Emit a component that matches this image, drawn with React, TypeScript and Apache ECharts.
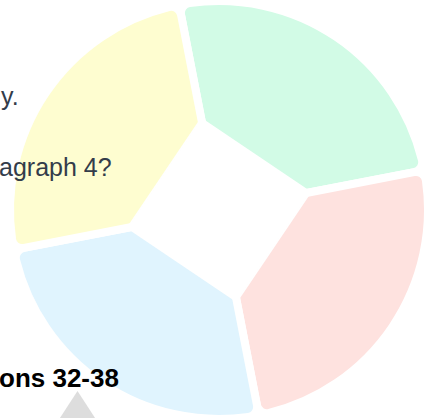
import React, { useEffect, useRef } from "react";
import * as echarts from "echarts";

const categories = ["Green", "Red", "Blue", "Yellow"];
const values = [25, 25, 25, 25];
const colors = ["#d2fbe6", "#fee2df", "#e0f4fe", "#fefdd0"];
const textLines = ["y.", "agraph 4?", "ons 32-38"];

const CX = 219;
const CY = 210;
const START = 101;

export default function App() {
  const ref = useRef<HTMLDivElement>(null);
  useEffect(() => {
    if (!ref.current) return;
    const chart = echarts.init(ref.current, undefined, { renderer: "svg" });
    const total = values.reduce((a, b) => a + b, 0);
    let acc = 0;
    const holePts: number[][] = values.map((v) => {
      const ang = ((START - (acc / total) * 360) * Math.PI) / 180;
      acc += v;
      const d = 93;
      return [CX + d * Math.cos(ang), CY - d * Math.sin(ang)];
    });
    const txt = (s: string, x: number, base: number, size: number, bold: boolean, fill: string) => ({
      type: "text",
      z: 100,
      x,
      y: base - size * 0.36,
      style: {
        text: s,
        font: `${bold ? "bold " : ""}${size}px 'Liberation Sans', Arial, sans-serif`,
        fill,
        verticalAlign: "middle",
        align: "left",
      },
    });
    chart.setOption({
      animation: false,
      backgroundColor: "#ffffff",
      series: [
        {
          type: "pie",
          center: [CX, CY],
          radius: [40, 209],
          startAngle: START,
          label: { show: false },
          labelLine: { show: false },
          silent: true,
          z: 2,
          itemStyle: {
            borderColor: "#ffffff",
            borderWidth: 8,
            borderRadius: [6, 10],
          },
          data: categories.map((c, i) => ({
            name: c,
            value: values[i],
            itemStyle: { color: colors[i] },
          })),
        },
      ],
      graphic: [
        {
          type: "polygon",
          z: 50,
          shape: { points: holePts },
          style: { fill: "#ffffff", stroke: "#ffffff", lineWidth: 2, lineJoin: "round" },
        },
        txt(textLines[0], 1, 105, 25, false, "#333c4a"),
        txt(textLines[1], -1, 176, 25, false, "#333c4a"),
        txt(textLines[2], -1, 387, 26, true, "#000000"),
        {
          type: "polygon",
          z: 90,
          shape: { points: [[77.5, 391], [58, 421], [97, 421]] },
          style: { fill: "#dddddd" },
        },
      ],
    });
    return () => chart.dispose();
  }, []);
  return (
    <div
      ref={ref}
      style={{ position: "fixed", left: 0, top: 0, width: 425, height: 418 }}
    />
  );
}
